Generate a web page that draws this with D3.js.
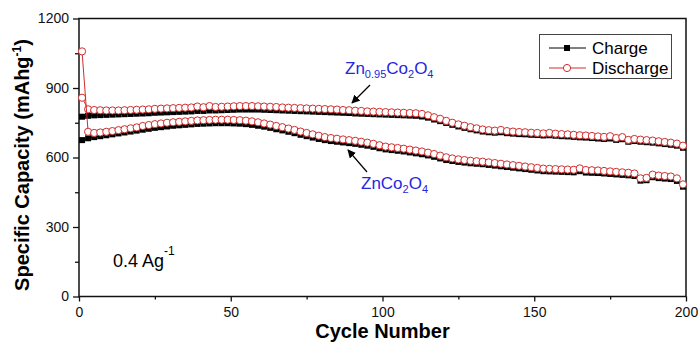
<!DOCTYPE html>
<html>
<head>
<meta charset="utf-8">
<script src="https://cdn.jsdelivr.net/npm/d3@7"></script>
<style>
  body { margin: 0; background: #fff; }
  text { font-family: Arial, "Liberation Sans", sans-serif; }
</style>
</head>
<body>
<script>
// cycle numbers (every second cycle is plotted)
var cycles = d3.range(1, 200, 2);

// Zn0.95Co2O4
var dopedDischarge = [
  858, 808, 805, 804, 803, 803, 803, 804, 805, 806,
  807, 808, 810, 811, 812, 813, 814, 815, 816, 820,
  817, 822, 818, 819, 820, 821, 822, 822, 822, 821,
  820, 819, 818, 816, 815, 814, 813, 812, 811, 810,
  809, 808, 807, 805, 804, 802, 801, 799, 798, 797,
  796, 795, 794, 793, 792, 791, 788, 782, 774, 767,
  758, 750, 743, 737, 731, 726, 721, 718, 716, 719,
  714, 712, 710, 709, 707, 706, 704, 706, 703, 701,
  700, 698, 696, 695, 693, 691, 689, 692, 684, 688,
  676, 680, 677, 675, 673, 670, 667, 664, 660, 651
];
var dopedCharge = [
  776, 780, 782, 783, 784, 785, 786, 787, 788, 789,
  790, 791, 793, 794, 795, 796, 797, 798, 799, 801,
  801, 803, 803, 804, 805, 806, 807, 807, 807, 807,
  806, 805, 804, 803, 802, 801, 800, 799, 798, 797,
  796, 795, 794, 793, 792, 790, 789, 788, 787, 786,
  785, 784, 783, 782, 781, 780, 777, 772, 764, 757,
  749, 741, 734, 728, 722, 717, 712, 709, 707, 709,
  705, 703, 701, 700, 698, 697, 695, 696, 694, 692,
  691, 689, 687, 686, 684, 682, 680, 682, 676, 679,
  668, 671, 668, 666, 664, 661, 658, 655, 651, 642
];

// ZnCo2O4
var pureDischarge = [
  1058, 711, 706, 708, 711, 714, 718, 722, 726, 730,
  736, 740, 744, 747, 750, 752, 754, 756, 758, 760,
  761, 762, 763, 763, 763, 762, 761, 759, 756, 752,
  747, 742, 736, 731, 725, 719, 712, 706, 700, 694,
  688, 684, 681, 678, 675, 672, 668, 664, 659, 653,
  647, 644, 641, 638, 634, 630, 626, 621, 615, 608,
  601, 596, 592, 589, 586, 584, 582, 579, 576, 573,
  570, 567, 564, 561, 558, 555, 552, 551, 550, 549,
  548, 547, 553, 546, 545, 544, 542, 540, 538, 536,
  534, 531, 510, 512, 526, 522, 520, 518, 510, 484
];
var pureCharge = [
  675, 683, 688, 692, 696, 700, 704, 708, 712, 716,
  720, 724, 728, 731, 734, 737, 739, 741, 743, 745,
  746, 747, 748, 748, 748, 747, 746, 744, 741, 737,
  733, 728, 722, 717, 711, 705, 698, 692, 686, 680,
  675, 671, 668, 665, 662, 659, 655, 651, 646, 640,
  635, 632, 629, 626, 622, 618, 614, 609, 603, 596,
  589, 585, 581, 578, 575, 573, 571, 568, 565, 562,
  559, 556, 553, 550, 547, 544, 541, 540, 539, 538,
  537, 536, 541, 535, 534, 533, 531, 529, 527, 525,
  523, 520, 500, 502, 515, 511, 509, 507, 499, 474
];

var xTicks = [0, 50, 100, 150, 200];
var xMinor = [25, 75, 125, 175];
var yTicks = [0, 300, 600, 900, 1200];
var yMinor = [150, 450, 750, 1050];

var red = '#d12c2c';
var blue = '#2626e0';

var width = 699, height = 347;
var plotLeft = 79, plotRight = 686, plotTop = 18.5, plotBottom = 296.5;

var svg = d3.select('body')
    .append('svg')
    .attr('width', width)
    .attr('height', height);

var x = d3.scaleLinear().domain([0, 200]).range([plotLeft, plotRight]);
var y = d3.scaleLinear().domain([0, 1200]).range([plotBottom, plotTop]);

// axes
svg.append('g')
    .attr('transform', `translate(0,${plotBottom})`)
    .call(d3.axisBottom(x).tickValues(xTicks).tickSize(5).tickPadding(6));
svg.append('g')
    .attr('transform', `translate(0,${plotBottom})`)
    .call(d3.axisBottom(x).tickValues(xMinor).tickSize(3).tickFormat(''));

svg.append('g')
    .attr('transform', `translate(${plotLeft},0)`)
    .call(d3.axisLeft(y).tickValues(yTicks).tickSize(6).tickPadding(4).tickFormat(d3.format('d')));
svg.append('g')
    .attr('transform', `translate(${plotLeft},0)`)
    .call(d3.axisLeft(y).tickValues(yMinor).tickSize(4).tickFormat(''));

svg.selectAll('.domain').remove();
svg.selectAll('.tick line').attr('stroke', '#111').attr('stroke-width', 1.3);
svg.selectAll('.tick text')
    .style('font-size', '14px')
    .style('font-family', 'Arial, "Liberation Sans", sans-serif')
    .attr('fill', '#111');

// frame
svg.append('rect')
    .attr('x', plotLeft)
    .attr('y', plotTop)
    .attr('width', plotRight - plotLeft)
    .attr('height', plotBottom - plotTop)
    .attr('fill', 'none')
    .attr('stroke', '#111')
    .attr('stroke-width', 1.5);

// series
var line = d3.line()
    .x(function(d) { return x(d[0]); })
    .y(function(d) { return y(d[1]); });

function pairs(vals) {
    return cycles.map(function(c, i) { return [c, vals[i]]; });
}

function drawCharge(vals) {
    var data = pairs(vals);
    svg.append('path')
        .datum(data)
        .attr('d', line)
        .attr('fill', 'none')
        .attr('stroke', '#000')
        .attr('stroke-width', 1);
    svg.append('g').selectAll('rect')
        .data(data)
        .join('rect')
        .attr('x', function(d) { return x(d[0]) - 3; })
        .attr('y', function(d) { return y(d[1]) - 3; })
        .attr('width', 6)
        .attr('height', 6)
        .attr('fill', '#000');
}

function drawDischarge(vals) {
    var data = pairs(vals);
    svg.append('path')
        .datum(data)
        .attr('d', line)
        .attr('fill', 'none')
        .attr('stroke', red)
        .attr('stroke-width', 1);
    svg.append('g').selectAll('circle')
        .data(data)
        .join('circle')
        .attr('cx', function(d) { return x(d[0]); })
        .attr('cy', function(d) { return y(d[1]); })
        .attr('r', 3.6)
        .attr('fill', '#fff')
        .attr('stroke', red)
        .attr('stroke-width', 1);
}

drawCharge(dopedCharge);
drawCharge(pureCharge);
drawDischarge(dopedDischarge);
drawDischarge(pureDischarge);

// axis titles
svg.append('text')
    .attr('x', (plotLeft + plotRight) / 2)
    .attr('y', 338)
    .attr('text-anchor', 'middle')
    .style('font-size', '20px')
    .style('font-weight', 'bold')
    .text('Cycle Number');

var yTitle = svg.append('text')
    .attr('transform', `translate(29,165)rotate(-90)`)
    .attr('text-anchor', 'middle')
    .style('font-size', '20px')
    .style('font-weight', 'bold');
yTitle.append('tspan').text('Specific Capacity (mAhg');
yTitle.append('tspan').attr('dy', -8).style('font-size', '12px').text('-1');
yTitle.append('tspan').attr('dy', 8).text(')');

// current density note
var note = svg.append('text')
    .attr('x', 113)
    .attr('y', 267)
    .style('font-size', '18px');
note.append('tspan').text('0.4 Ag');
note.append('tspan').attr('dy', -12).style('font-size', '12px').text('-1');

// sample labels
function formula(xp, yp, parts) {
    var t = svg.append('text')
        .attr('x', xp)
        .attr('y', yp)
        .attr('fill', blue)
        .style('font-size', '17px');
    var shift = 0;
    parts.forEach(function(p) {
        var want = p.sub ? 4 : 0;
        t.append('tspan')
            .attr('dy', want - shift)
            .style('font-size', p.sub ? '11px' : '17px')
            .text(p.t);
        shift = want;
    });
}

formula(345, 74, [
    {t: 'Zn'}, {t: '0.95', sub: true}, {t: 'Co'}, {t: '2', sub: true}, {t: 'O'}, {t: '4', sub: true}
]);
formula(361, 189, [
    {t: 'ZnCo'}, {t: '2', sub: true}, {t: 'O'}, {t: '4', sub: true}
]);

// arrows
svg.append('defs').append('marker')
    .attr('id', 'head')
    .attr('viewBox', '0 0 10 10')
    .attr('refX', 9)
    .attr('refY', 5)
    .attr('markerWidth', 7)
    .attr('markerHeight', 7)
    .attr('orient', 'auto')
    .append('path')
    .attr('d', 'M0,0L10,5L0,10z')
    .attr('fill', '#000');

svg.append('line')
    .attr('x1', 370).attr('y1', 85)
    .attr('x2', 352).attr('y2', 103)
    .attr('stroke', '#000')
    .attr('stroke-width', 1.2)
    .attr('marker-end', 'url(#head)');

svg.append('line')
    .attr('x1', 367).attr('y1', 172)
    .attr('x2', 348).attr('y2', 150)
    .attr('stroke', '#000')
    .attr('stroke-width', 1.2)
    .attr('marker-end', 'url(#head)');

// legend
var legend = svg.append('g');
legend.append('rect')
    .attr('x', 539.5)
    .attr('y', 34.5)
    .attr('width', 132)
    .attr('height', 44)
    .attr('fill', '#fff')
    .attr('stroke', '#444')
    .attr('stroke-width', 1);

legend.append('line')
    .attr('x1', 549).attr('x2', 586)
    .attr('y1', 48).attr('y2', 48)
    .attr('stroke', '#000');
legend.append('rect')
    .attr('x', 564).attr('y', 45)
    .attr('width', 6).attr('height', 6)
    .attr('fill', '#000');
legend.append('text')
    .attr('x', 592).attr('y', 48)
    .attr('dy', '0.36em')
    .style('font-size', '17px')
    .text('Charge');

legend.append('line')
    .attr('x1', 549).attr('x2', 586)
    .attr('y1', 68).attr('y2', 68)
    .attr('stroke', red);
legend.append('circle')
    .attr('cx', 567).attr('cy', 68)
    .attr('r', 3.6)
    .attr('fill', '#fff')
    .attr('stroke', red);
legend.append('text')
    .attr('x', 592).attr('y', 68)
    .attr('dy', '0.36em')
    .style('font-size', '17px')
    .text('Discharge');
</script>
</body>
</html>
